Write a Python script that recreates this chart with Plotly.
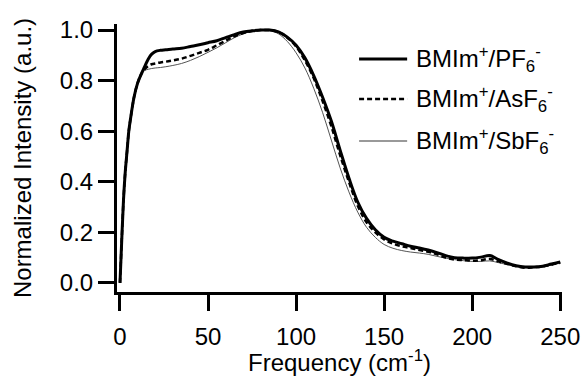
import plotly.graph_objects as go

freq = [0, 1, 2, 3, 4, 5, 6, 8, 10, 12, 14, 16, 18, 20, 23, 26, 30, 35, 40, 45,
        50, 55, 60, 65, 70, 75, 80, 85, 90, 95, 100, 105, 110, 115, 120, 125,
        130, 135, 140, 145, 150, 155, 160, 165, 170, 175, 180, 185, 190, 195,
        200, 205, 210, 215, 220, 225, 230, 235, 240, 245, 250]

pf6 = [0.0, 0.17, 0.33, 0.44, 0.52, 0.60, 0.65, 0.735, 0.79, 0.825, 0.855, 0.885,
       0.905, 0.915, 0.92, 0.922, 0.925, 0.928, 0.935, 0.942, 0.950, 0.958, 0.970,
       0.982, 0.992, 0.997, 1.0, 1.0, 0.993, 0.972, 0.94, 0.89, 0.82, 0.735, 0.64,
       0.525, 0.415, 0.32, 0.255, 0.21, 0.18, 0.165, 0.155, 0.145, 0.138, 0.13,
       0.12, 0.108, 0.10, 0.098, 0.098, 0.102, 0.108, 0.092, 0.078, 0.068, 0.063,
       0.063, 0.066, 0.075, 0.083]

asf6 = [0.0, 0.17, 0.33, 0.44, 0.52, 0.60, 0.65, 0.735, 0.79, 0.825, 0.845, 0.858,
        0.865, 0.868, 0.872, 0.875, 0.88, 0.887, 0.898, 0.91, 0.922, 0.94, 0.958,
        0.975, 0.988, 0.996, 1.0, 1.0, 0.992, 0.97, 0.935, 0.88, 0.81, 0.72, 0.62,
        0.505, 0.40, 0.305, 0.24, 0.20, 0.172, 0.155, 0.145, 0.138, 0.13, 0.123,
        0.113, 0.10, 0.092, 0.09, 0.088, 0.09, 0.095, 0.085, 0.075, 0.066, 0.06,
        0.062, 0.065, 0.072, 0.08]

sbf6 = [0.0, 0.17, 0.33, 0.44, 0.52, 0.60, 0.65, 0.735, 0.79, 0.825, 0.84, 0.845,
        0.848, 0.85, 0.852, 0.855, 0.86, 0.868, 0.88, 0.895, 0.912, 0.93, 0.95,
        0.97, 0.985, 0.995, 1.0, 0.998, 0.985, 0.955, 0.91, 0.85, 0.77, 0.675,
        0.565, 0.455, 0.36, 0.28, 0.22, 0.18, 0.152, 0.137, 0.128, 0.122, 0.118,
        0.113, 0.105, 0.098, 0.092, 0.088, 0.085, 0.085, 0.087, 0.08, 0.072,
        0.065, 0.06, 0.06, 0.063, 0.07, 0.078]

names = ["BMIm<sup>+</sup>/PF<sub>6</sub><sup>-</sup>",
         "BMIm<sup>+</sup>/AsF<sub>6</sub><sup>-</sup>",
         "BMIm<sup>+</sup>/SbF<sub>6</sub><sup>-</sup>"]

x_ticks = [0, 50, 100, 150, 200, 250]
y_ticks = [0.0, 0.2, 0.4, 0.6, 0.8, 1.0]

FONT = "Liberation Sans, Arial, sans-serif"
FS = 24
styles = [dict(color="black", width=3),
          dict(color="black", width=2.5, dash="5px,3px"),
          dict(color="#555555", width=1)]

fig = go.Figure()
for ys, nm, st in zip([sbf6, asf6, pf6], names[::-1], styles[::-1]):
    fig.add_trace(go.Scatter(x=freq, y=ys, mode="lines", name=nm, line=st,
                             line_shape="spline", showlegend=False))

# manual legend
leg_y = [0.869, 0.720, 0.563]
leg_line_styles = [dict(color="black", width=3),
                   dict(color="black", width=2.5, dash="5px,3px"),
                   dict(color="#777777", width=1.5)]
for nm, yy, st in zip(names, leg_y, leg_line_styles):
    fig.add_shape(type="line", xref="paper", yref="paper", x0=0.544, x1=0.652,
                  y0=yy, y1=yy, line=st)
    fig.add_annotation(xref="paper", yref="paper", x=0.668, y=yy, text=nm,
                       showarrow=False, xanchor="left", yanchor="middle",
                       font=dict(family=FONT, size=FS, color="black"))

axis_common = dict(showline=True, linewidth=3, linecolor="black", ticks="outside",
                   ticklen=16, tickwidth=3, tickcolor="black", showgrid=False,
                   zeroline=False, automargin=False,
                   tickfont=dict(family=FONT, size=FS, color="black"))

fig.update_xaxes(range=[-1.7, 251], tickvals=x_ticks, ticklabelstandoff=5,
                 title=dict(text="Frequency (cm<sup>-1</sup>)", standoff=8,
                            font=dict(family=FONT, size=FS, color="black")),
                 **axis_common)
fig.update_yaxes(range=[-0.036, 1.024], tickvals=y_ticks, tickformat=".1f",
                 title=dict(text="Normalized Intensity (a.u.)", standoff=22,
                            font=dict(family=FONT, size=FS, color="black")),
                 **axis_common)

fig.update_layout(width=582, height=376, margin=dict(l=117, r=20, t=24, b=84),
                  plot_bgcolor="white", paper_bgcolor="white",
                  font=dict(family=FONT, size=FS, color="black"))

fig.write_html("out.html", config={"displayModeBar": False},
               post_script="document.body.style.margin='0';"
                           "document.documentElement.style.overflow='hidden';")
